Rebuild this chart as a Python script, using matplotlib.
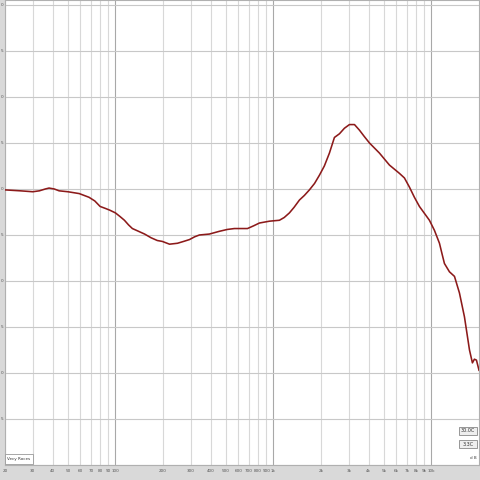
import numpy as np
import matplotlib
matplotlib.use("Agg")
import matplotlib.pyplot as plt
from matplotlib.patches import Rectangle
import matplotlib.transforms as mtransforms

# frequency response (Hz, dB)
freq = [20, 25, 30, 33, 36, 38, 41, 44, 50, 59, 68, 74, 80, 86, 92, 100, 107,
        114, 121, 128, 140, 153, 168, 184, 198, 220, 247, 270, 294, 317, 340,
        393, 455, 510, 566, 685, 750, 815, 944, 1091, 1170, 1262, 1350, 1461,
        1570, 1689, 1820, 1955, 2100, 2261, 2432, 2617, 2813, 3027, 3258, 3500,
        3760, 4053, 4688, 5422, 6270, 6745, 7259, 7800, 8395, 9711, 10449,
        11240, 11650, 12085, 13000, 13990, 15040, 16180, 17410, 18170, 18700,
        19270, 20000]
spl = [-10.1, -10.2, -10.3, -10.2, -10.0, -9.9, -10.0, -10.2, -10.3, -10.5,
       -10.9, -11.3, -11.9, -12.1, -12.3, -12.6, -13.0, -13.4, -13.9, -14.3,
       -14.6, -14.9, -15.3, -15.6, -15.7, -16.0, -15.9, -15.7, -15.5, -15.2,
       -15.0, -14.9, -14.6, -14.4, -14.3, -14.3, -14.0, -13.7, -13.5, -13.4,
       -13.1, -12.6, -12.0, -11.2, -10.7, -10.1, -9.4, -8.5, -7.5, -6.1, -4.4,
       -4.0, -3.4, -3.0, -3.0, -3.6, -4.3, -5.0, -6.1, -7.4, -8.3, -8.8, -9.8,
       -10.9, -11.9, -13.4, -14.5, -15.9, -17.0, -18.1, -19.0, -19.5, -21.3,
       -23.9, -27.5, -28.9, -28.5, -28.6, -29.7]

xticks = [20, 30, 40, 50, 60, 70, 80, 90, 100, 200, 300, 400, 500, 600, 700,
          800, 900, 1000, 2000, 3000, 4000, 5000, 6000, 7000, 8000, 9000, 10000]
xlabels = ["20", "30", "40", "50", "60", "70", "80", "90", "100", "200", "300",
           "400", "500", "600", "700", "800", "900", "1k", "2k", "3k", "4k",
           "5k", "6k", "7k", "8k", "9k", "10k"]
yticks = [10, 5, 0, -5, -10, -15, -20, -25, -30, -35, -40]

fig = plt.figure(figsize=(4.8, 4.8), dpi=100, facecolor="#d9d9d9")
ax = fig.add_axes([5 / 480, 15 / 480, 474 / 480, 465 / 480])
ax.set_facecolor("white")
ax.set_xscale("log")
ax.set_xlim(20, 20000)
ax.set_ylim(-40, 10.54)

ax.set_xticks(xticks)
ax.set_xticklabels(xlabels)
ax.set_xticks([], minor=True)
ax.set_yticks(yticks)
ax.set_yticklabels([])
ax.tick_params(length=0, labelsize=3, colors="#555555", pad=3)

# y labels squeezed into the narrow grey strip on the left
trans = mtransforms.blended_transform_factory(fig.transFigure, ax.transData)
for v in yticks:
    if v == -40:
        continue
    ax.text(0.3 / 480, v, str(abs(v) % 10), transform=trans, fontsize=3,
            ha="left", va="center", color="#555555", clip_on=False)

for f in xticks:
    c = "#a8a8a8" if f in (100, 1000, 10000) else "#d8d8d8"
    ax.axvline(f, color=c, lw=0.8, zorder=1)
for v in yticks:
    ax.axhline(v, color="#c8c8c8", lw=0.8, zorder=1)

ax.plot(freq, spl, color="#8c1a1a", lw=1.15, zorder=3,
        solid_joinstyle="round", antialiased=True)

for s in ax.spines.values():
    s.set_color("#b0b0b0")
    s.set_linewidth(0.8)

# legend label box bottom left
fig.patches.append(Rectangle((5 / 480, 16 / 480), 28 / 480, 10 / 480,
                             transform=fig.transFigure, facecolor="white",
                             edgecolor="#999999", lw=0.6, zorder=5))
fig.text(19 / 480, 21 / 480, "Vecy Roces", fontsize=3, ha="center",
         va="center", color="#333333", zorder=6)

# value boxes bottom right
for yb, txt in [(45 / 480, "30.0C"), (32 / 480, "3.3C")]:
    fig.patches.append(Rectangle((459 / 480, yb), 18 / 480, 8 / 480,
                                 transform=fig.transFigure, facecolor="#eeeeee",
                                 edgecolor="#888888", lw=0.6, zorder=5))
    fig.text(468 / 480, yb + 4 / 480, txt, fontsize=3.5, ha="center",
             va="center", color="#333333", zorder=6)
fig.text(473 / 480, 22 / 480, "d B", fontsize=3, ha="center", va="center",
         color="#444444")

fig.savefig("out.png", dpi=100, facecolor=fig.get_facecolor())
